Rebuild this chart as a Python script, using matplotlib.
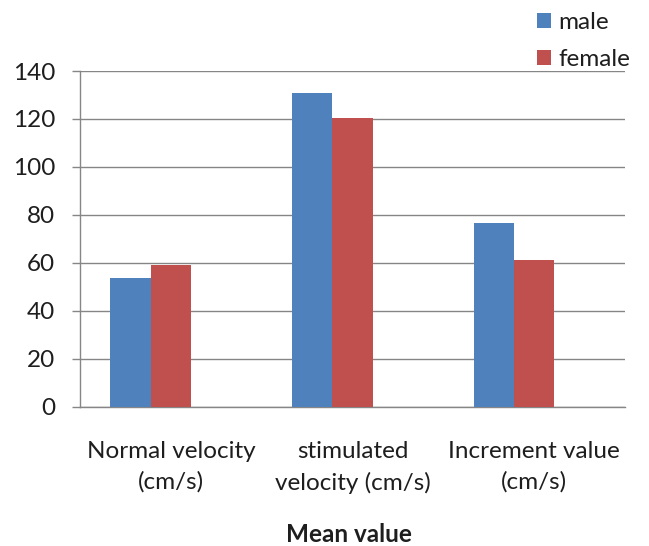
import numpy as np
import matplotlib.pyplot as plt

# data
categories = ["Normal velocity\n(cm/s)", "stimulated\nvelocity (cm/s)", "Increment value\n(cm/s)"]
male = [53.8, 130.7, 76.7]
female = [59.0, 120.5, 61.2]
y_ticks = [0, 20, 40, 60, 80, 100, 120, 140]

plt.rcParams['font.family'] = ['Lato', 'DejaVu Sans']
fs = 17.5
txt_col = "#1e1e1e"

fig = plt.figure(figsize=(6.49, 5.46), dpi=100)
ax = fig.add_axes([80 / 649, (546 - 406.7) / 546, 545 / 649, (406.7 - 71) / 546])

x = np.arange(len(categories))
w = 0.222
# excel style cluster with an empty third slot, so the pair sits left of centre
ax.bar(x - 1.5 * w, male, w, align="edge", color="#4F81BD", label="male", zorder=3)
ax.bar(x - 0.5 * w, female, w, align="edge", color="#C0504D", label="female", zorder=3)

ax.set_xlim(-0.5, 2.5)
ax.set_ylim(0, 140)
ax.set_yticks(y_ticks)
ax.set_yticklabels([str(v) for v in y_ticks], fontsize=fs, color=txt_col)
ax.set_xticks(x)
ax.set_xticklabels(categories, fontsize=fs, color=txt_col, linespacing=1.5)
ax.tick_params(axis="x", length=0, pad=25)
ax.tick_params(axis="y", length=5.8, width=1, color="#868686", pad=12)

ax.grid(axis="y", color="#868686", linewidth=1, zorder=0)
for side in ["top", "right"]:
    ax.spines[side].set_visible(False)
for side in ["left", "bottom"]:
    ax.spines[side].set_color("#868686")
    ax.spines[side].set_linewidth(1)

fig.text(349 / 649, 1 - 534 / 546, "Mean value", ha="center", va="center",
         fontsize=fs, fontweight="bold", color=txt_col)

fig.legend(loc="upper left", bbox_to_anchor=(537 / 649, 1 - 12 / 546), frameon=False,
           fontsize=fs, handlelength=0.58, handleheight=0.58, handletextpad=0.29,
           labelspacing=0.66, borderpad=0, borderaxespad=0, labelcolor=txt_col)

fig.savefig("out.png", dpi=100)
